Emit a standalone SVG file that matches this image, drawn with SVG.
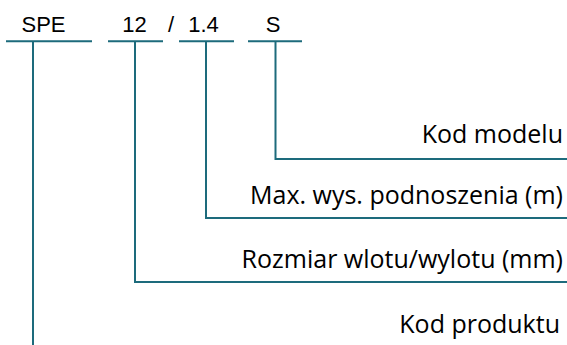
<svg xmlns="http://www.w3.org/2000/svg" width="567" height="345" viewBox="0 0 567 345">
<style>
.ln{fill:none;stroke:#1d6b7c;stroke-width:2}
.code{font-family:"Liberation Sans",Arial,sans-serif;font-size:22px;fill:#000;text-anchor:middle}
.lbl{font-family:"Open Sans","Noto Sans",sans-serif;font-size:25px;font-weight:500;fill:#000;text-anchor:end}
</style>
<rect width="567" height="345" fill="#fff"/>
<g id="code-spe"><text class="code" x="43.5" y="32">SPE</text></g>
<g id="code-12"><text class="code" x="134.5" y="32">12</text></g>
<g id="code-slash"><text class="code" x="171" y="32">/</text></g>
<g id="code-14"><text class="code" x="203.5" y="32">1.4</text></g>
<g id="code-s"><text class="code" x="273" y="32">S</text></g>
<g id="label-model"><text class="lbl" x="563" y="143">Kod modelu</text></g>
<g id="label-height"><text class="lbl" x="563" y="204">Max. wys. podnoszenia (m)</text></g>
<g id="label-size"><text class="lbl" x="563" y="268">Rozmiar wlotu/wylotu (mm)</text></g>
<g id="label-product"><text class="lbl" x="560" y="333">Kod produktu</text></g>
<g id="connectors">
<path class="ln" d="M6 41.3H92M108 41.3H163M179 41.3H234M248 41.3H302"/>
<path class="ln" d="M33 41.3V345"/>
<path class="ln" d="M135 41.3V282H567"/>
<path class="ln" d="M206 41.3V218H567"/>
<path class="ln" d="M275.5 41.3V159H567"/>
</g>
</svg>
